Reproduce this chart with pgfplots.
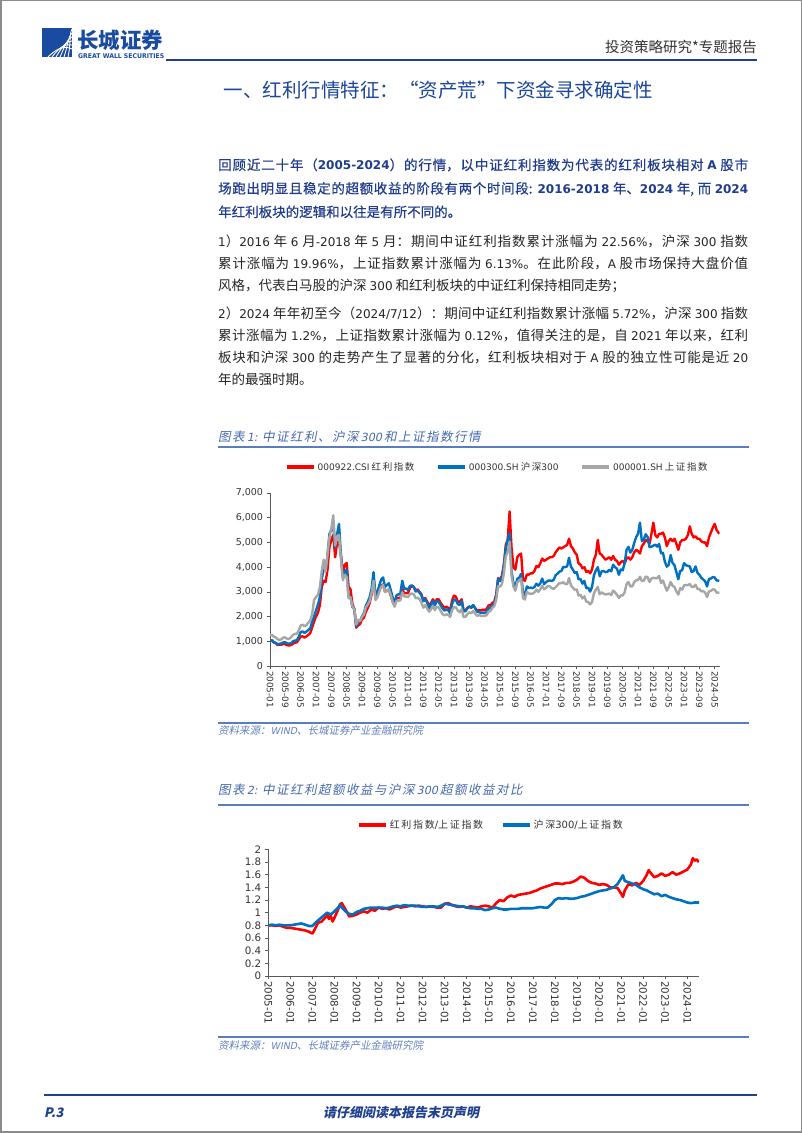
\documentclass[border=0pt]{standalone}
\usepackage{fontspec}
\usepackage{graphicx}
\usepackage{pgfplots}
\usepackage{pgfplotstable}
\pgfplotsset{compat=1.18}
\setmainfont{Noto Sans CJK SC}
\newfontfamily\cjkmb[FakeBold=0.5]{Noto Sans CJK SC}
\newfontfamily\lat[Scale=0.89]{DejaVu Sans}
\newfontfamily\tickfont{DejaVu Sans}
\newfontfamily\slant[FakeSlant=0.2]{Noto Sans CJK SC}
\newfontfamily\slantsp[FakeSlant=0.2,LetterSpace=12]{Noto Sans CJK SC}
\newfontfamily\slantlat[FakeSlant=0.2,Scale=0.9]{DejaVu Sans}
\XeTeXlinebreaklocale "zh"
\XeTeXlinebreakskip=0pt plus 2pt minus 0.3pt
\setlength{\parindent}{0pt}
\definecolor{cRed}{RGB}{255,0,0}
\definecolor{cBlue}{RGB}{0,112,192}
\definecolor{cGray}{RGB}{166,166,166}
\definecolor{hdrBlue}{RGB}{31,63,143}
\definecolor{txtBlue}{RGB}{32,60,140}
\definecolor{ttlBlue}{RGB}{28,70,155}
\definecolor{capBlue}{RGB}{70,105,175}
\definecolor{lineBlue}{RGB}{90,125,190}
\definecolor{srcBlue}{RGB}{100,130,190}
\definecolor{logoBlue}{RGB}{25,75,160}
\definecolor{bodyTxt}{RGB}{38,38,38}

\pgfplotstableread{
m red blue gray
0 1000 990 1260
1 1040 1050 1250
2 950 960 1190
3 920 940 1160
4 850 870 1080
5 860 900 1060
6 860 910 1080
7 900 960 1160
8 880 960 1150
9 840 910 1100
10 830 910 1100
11 850 920 1160
12 900 1000 1260
13 940 1030 1300
14 960 1040 1300
15 1070 1180 1440
16 1190 1370 1640
17 1200 1400 1670
18 1150 1340 1610
19 1200 1390 1660
20 1260 1460 1750
21 1330 1520 1840
22 1560 1800 2100
23 1800 2000 2680
24 2000 2250 2790
25 2150 2480 2880
26 2450 2780 3180
27 3200 3530 3840
28 3450 3900 4300
29 3400 3900 3820
30 3900 4470 4470
31 4800 5340 5220
32 5100 5500 5550
33 5300 5690 6100
34 4400 4800 4870
35 5000 5340 5260
36 5000 5750 5300
37 4500 4480 4350
38 3700 3580 3470
39 4100 3800 3690
40 4170 3890 3600
41 3200 2800 2740
42 3100 2800 2780
43 2500 2380 2400
44 2300 2300 2290
45 1550 1600 1680
46 1650 1800 1870
47 1700 1820 1820
48 1900 2010 1990
49 1950 2130 2080
50 2200 2440 2370
51 2350 2590 2480
52 2550 2790 2630
53 2900 3130 2960
54 3550 3800 3450
55 2800 2880 2670
56 2850 2990 2780
57 3050 3250 3000
58 3250 3500 3200
59 3300 3580 3280
60 3000 3200 2990
61 3050 3280 3050
62 3100 3350 3110
63 2850 3070 2870
64 2600 2760 2590
65 2450 2560 2400
66 2750 2860 2640
67 2750 2900 2640
68 2750 2930 2660
69 3100 3450 2980
70 2950 3130 2820
71 2950 3130 2810
72 2950 3080 2790
73 3150 3240 2910
74 3250 3260 2930
75 3200 3200 2910
76 3050 3010 2740
77 3100 3050 2760
78 3000 2970 2700
79 2900 2860 2570
80 2650 2620 2360
81 2750 2700 2470
82 2600 2560 2330
83 2450 2350 2200
84 2550 2460 2290
85 2700 2630 2430
86 2550 2450 2260
87 2700 2630 2400
88 2700 2600 2370
89 2550 2460 2230
90 2450 2330 2100
91 2350 2240 2050
92 2400 2290 2090
93 2350 2250 2070
94 2250 2140 1980
95 2650 2520 2270
96 2850 2690 2390
97 2800 2670 2370
98 2600 2500 2240
99 2600 2470 2180
100 2700 2630 2300
101 2250 2210 1980
102 2250 2220 1990
103 2350 2340 2100
104 2400 2410 2170
105 2350 2370 2140
106 2450 2470 2220
107 2350 2330 2120
108 2250 2200 2030
109 2250 2180 2060
110 2250 2150 2030
111 2280 2160 2030
112 2270 2160 2040
113 2300 2170 2050
114 2450 2350 2200
115 2450 2330 2220
116 2550 2450 2360
117 2600 2510 2420
118 2900 2810 2680
119 3550 3530 3230
120 3500 3430 3210
121 3650 3570 3310
122 4100 4050 3750
123 4900 4750 4440
124 5100 5120 4610
125 6250 5380 5030
126 4800 3820 3660
127 4000 3370 3210
128 3900 3200 3050
129 4400 3530 3380
130 4500 3570 3450
131 4550 3730 3540
132 3500 2950 2740
133 3450 2880 2690
134 3700 3220 3000
135 3700 3160 2940
136 3750 3170 2920
137 3750 3150 2930
138 3850 3200 2980
139 4050 3330 3090
140 4000 3250 3000
141 4150 3340 3100
142 4350 3540 3250
143 4250 3310 3100
144 4300 3390 3160
145 4350 3450 3240
146 4400 3460 3220
147 4400 3440 3150
148 4450 3490 3120
149 4600 3670 3190
150 4700 3740 3270
151 4800 3820 3360
152 4750 3840 3350
153 4800 4010 3390
154 4850 4000 3320
155 4900 4030 3310
156 5150 4380 3560
157 4850 4020 3260
158 4750 3900 3170
159 4600 3760 3080
160 4500 3800 3100
161 4150 3510 2850
162 4100 3520 2880
163 3950 3330 2730
164 4000 3440 2820
165 3800 3150 2600
166 3850 3170 2590
167 3750 3010 2490
168 3900 3200 2590
169 4300 3670 2940
170 4500 3870 3090
171 5100 4000 3200
172 4550 3630 2900
173 4500 3830 2980
174 4400 3840 2930
175 4300 3800 2890
176 4350 3810 2910
177 4400 3890 2930
178 4300 3830 2870
179 4450 4100 3050
180 4300 4000 2980
181 4250 3940 2880
182 4100 3690 2750
183 4200 3910 2860
184 4250 3870 2850
185 4150 4160 2980
186 4350 4700 3310
187 4400 4820 3400
188 4300 4590 3220
189 4400 4700 3220
190 4600 4980 3390
191 4700 5210 3470
192 4650 5350 3480
193 4550 5800 3610
194 4850 5050 3440
195 4950 5120 3450
196 5100 5330 3620
197 5050 5220 3590
198 4950 4810 3400
199 5350 4830 3540
200 5800 4870 3570
201 5300 4910 3550
202 5200 4830 3560
203 5350 4940 3640
204 5350 4560 3360
205 5400 4580 3460
206 5200 4220 3250
207 4850 4020 3050
208 5050 4090 3190
209 5150 4490 3400
210 5050 4170 3250
211 5150 4080 3200
212 4950 3800 3020
213 4700 3510 2890
214 5000 3850 3150
215 5100 3870 3090
216 5100 4160 3260
217 5150 4080 3280
218 5300 4050 3270
219 5650 4030 3320
220 5350 3800 3200
221 5200 3840 3200
222 5250 4030 3290
223 5150 3770 3120
224 5150 3690 3110
225 5050 3570 3020
226 5000 3500 3030
227 5000 3430 2970
228 4850 3220 2790
229 5200 3520 3020
230 5400 3540 3040
231 5600 3600 3100
232 5750 3580 3090
233 5500 3460 2970
234.4 5350 3450 2970
}\dataA

\pgfplotstableread{
m v
0 0.80
2 0.80
4 0.79
6 0.80
8 0.78
10 0.76
12 0.76
14 0.75
16 0.74
18 0.73
20 0.72
22 0.70
24 0.67
25 0.72
27 0.84
29 0.86
31 0.92
32 0.97
33 0.90
34 0.95
35 0.86
36 0.92
38 1.05
39 1.13
40 1.15
41 1.10
43 1.00
44 0.94
46 0.95
48 0.97
50 1.00
52 1.02
54 1.00
56 1.05
58 1.03
60 1.08
62 1.06
64 1.07
66 1.05
68 1.08
70 1.10
72 1.08
74 1.09
76 1.10
78 1.11
80 1.10
82 1.11
84 1.10
86 1.09
88 1.10
90 1.09
92 1.08
94 1.08
96 1.14
98 1.15
100 1.12
102 1.10
104 1.09
106 1.10
108 1.08
110 1.10
112 1.09
114 1.08
116 1.10
118 1.11
120 1.10
122 1.08
124 1.15
126 1.20
128 1.18
130 1.24
132 1.27
134 1.25
136 1.28
138 1.29
140 1.30
142 1.31
144 1.33
146 1.35
148 1.38
150 1.40
152 1.42
154 1.44
156 1.46
158 1.46
160 1.45
162 1.47
164 1.47
166 1.49
168 1.52
170 1.57
172 1.55
174 1.50
176 1.47
178 1.46
180 1.44
182 1.45
184 1.44
186 1.40
188 1.40
190 1.39
192 1.30
193 1.25
194 1.35
196 1.45
198 1.43
200 1.47
202 1.44
204 1.50
206 1.60
207 1.67
208 1.63
210 1.56
212 1.58
214 1.62
216 1.58
218 1.60
220 1.64
222 1.60
224 1.62
226 1.65
228 1.68
230 1.76
231 1.86
232 1.82
233 1.84
234.4 1.80
}\dataR

\pgfplotstableread{
m v
0 0.80
2 0.81
4 0.80
6 0.81
8 0.80
10 0.80
12 0.80
14 0.81
16 0.82
18 0.83
20 0.81
22 0.79
24 0.79
26 0.85
28 0.90
30 0.95
32 1.00
34 0.97
36 1.02
38 1.08
39 1.12
40 1.08
42 1.02
44 0.98
46 0.97
48 1.01
50 1.03
52 1.06
54 1.07
56 1.08
58 1.08
60 1.08
62 1.08
64 1.07
66 1.08
68 1.10
70 1.11
72 1.10
74 1.12
76 1.11
78 1.11
80 1.11
82 1.10
84 1.09
86 1.09
88 1.10
90 1.10
92 1.09
94 1.11
96 1.14
98 1.13
100 1.12
102 1.11
104 1.10
106 1.10
108 1.08
110 1.07
112 1.07
114 1.06
116 1.06
118 1.04
120 1.05
122 1.07
124 1.08
126 1.06
128 1.05
130 1.05
132 1.06
134 1.06
136 1.06
138 1.07
140 1.07
142 1.07
144 1.07
146 1.08
148 1.09
150 1.08
152 1.08
154 1.13
156 1.20
158 1.23
160 1.22
162 1.23
164 1.22
166 1.22
168 1.23
170 1.25
172 1.26
174 1.28
176 1.30
178 1.32
180 1.34
182 1.35
184 1.36
186 1.38
188 1.40
190 1.45
192 1.54
193 1.59
194 1.50
196 1.48
198 1.46
200 1.44
202 1.40
204 1.37
206 1.35
208 1.32
210 1.29
212 1.30
214 1.26
216 1.28
218 1.25
220 1.23
222 1.21
224 1.20
226 1.18
228 1.16
230 1.15
232 1.16
234.4 1.16
}\dataB

\begin{document}
\begin{tikzpicture}
\begin{scope}[x=1pt,y=1pt]
% page
\fill[white] (0,0) rectangle (802,1133);
\draw[black!45, line width=1.5pt] (0.75,0.75) rectangle (801.25,1132.25);

% logo
\fill[logoBlue] (42,1076) rectangle (72,1105);
\foreach \i in {0,...,5}{
  \draw[white, line width=0.9pt] ({48+4*\i},1076) .. controls ({56+3*\i},{1084+1*\i}) and ({64+1*\i},{1088+2*\i}) .. (72,{1084+4*\i});
}
\node[anchor=base west, inner sep=0, text=logoBlue, font=\fontsize{21.5}{24}\selectfont\bfseries] at (77,1084) {长城证券};
\node[anchor=west, inner sep=0, text=logoBlue] at (78,1077) {\resizebox{86pt}{4.8pt}{\tickfont\bfseries GREAT WALL SECURITIES}};
\node[anchor=base east, inner sep=0, text=black!80, font=\fontsize{14.5}{16}\selectfont] at (757,1080) {投资策略研究*专题报告};
\draw[hdrBlue, line width=2pt] (166,1073) -- (757,1073);

% title
\node[anchor=center, inner sep=0, text=ttlBlue, font=\fontsize{19.5}{22}\selectfont] at (438,1043) {一、红利行情特征：“资产荒”下资金寻求确定性};

% paragraph 1
\node[anchor=base west, inner sep=0, text width=530pt, align=justify, text=txtBlue, font=\fontsize{13.5}{23.5}\selectfont\cjkmb] at (218,963) {%
回顾近二十年（{\lat\bfseries 2005-2024}）的行情，以中证红利指数为代表的红利板块相对 {\lat\bfseries A} 股市\linebreak
场跑出明显且稳定的超额收益的阶段有两个时间段: {\lat\bfseries 2016-2018} 年、{\lat\bfseries 2024} 年, 而 {\lat\bfseries 2024}\linebreak
年红利板块的逻辑和以往是有所不同的。};

% paragraph 2
\node[anchor=base west, inner sep=0, text width=530pt, align=justify, text=bodyTxt, font=\fontsize{13.5}{22}\selectfont] at (218,886) {%
{\lat 1}）{\lat 2016} 年 {\lat 6} 月{\lat -2018} 年 {\lat 5} 月：期间中证红利指数累计涨幅为 {\lat 22.56\%}，沪深 {\lat 300} 指数\linebreak
累计涨幅为 {\lat 19.96\%}，上证指数累计涨幅为 {\lat 6.13\%}。在此阶段，{\lat A} 股市场保持大盘价值\linebreak
风格，代表白马股的沪深 {\lat 300} 和红利板块的中证红利保持相同走势；};

% paragraph 3
\node[anchor=base west, inner sep=0, text width=530pt, align=justify, text=bodyTxt, font=\fontsize{13.5}{22}\selectfont] at (218,814) {%
{\lat 2}）{\lat 2024} 年年初至今（{\lat 2024/7/12}）：期间中证红利指数累计涨幅 {\lat 5.72\%}，沪深 {\lat 300} 指数\linebreak
累计涨幅为 {\lat 1.2\%}，上证指数累计涨幅为 {\lat 0.12\%}，值得关注的是，自 {\lat 2021} 年以来，红利\linebreak
板块和沪深 {\lat 300} 的走势产生了显著的分化，红利板块相对于 {\lat A} 股的独立性可能是近 {\lat 20}\linebreak
年的最强时期。};

% caption 1
\node[anchor=base west, inner sep=0, text=capBlue, font=\fontsize{12.5}{14}\selectfont\slantsp] at (218,691) {图表\,{\slantlat 1:}\ 中证红利、沪深\,{\slantlat 300}\,和上证指数行情};
\draw[lineBlue, line width=1.5pt] (218,686) -- (749,686);

% source 1
\draw[lineBlue, line width=1.5pt] (218,410) -- (749,410);
\node[anchor=base west, inner sep=0, text=srcBlue, font=\fontsize{10.5}{12}\selectfont\slant] at (218,398) {资料来源：{\slantlat WIND}、长城证券产业金融研究院};

% caption 2
\node[anchor=base west, inner sep=0, text=capBlue, font=\fontsize{12.5}{14}\selectfont\slantsp] at (218,338) {图表\,{\slantlat 2:}\ 中证红利超额收益与沪深\,{\slantlat 300}\,超额收益对比};
\draw[lineBlue, line width=1.5pt] (218,328) -- (749,328);

% source 2
\draw[lineBlue, line width=1.5pt] (218,96) -- (749,96);
\node[anchor=base west, inner sep=0, text=srcBlue, font=\fontsize{10.5}{12}\selectfont\slant] at (218,83) {资料来源：{\slantlat WIND}、长城证券产业金融研究院};

% footer
\draw[hdrBlue, line width=2.5pt] (44,38) -- (757,38);
\node[anchor=base west, inner sep=0, text=hdrBlue, font=\fontsize{13}{15}\selectfont\slant\bfseries] at (44,15) {P.3};
\node[anchor=base, inner sep=0, text=hdrBlue, font=\fontsize{13}{15}\selectfont\slant\bfseries] at (401,15) {请仔细阅读本报告末页声明};
\end{scope}

% chart 1
\begin{axis}[
  at={(270pt,467pt)}, anchor=south west,
  scale only axis, width=449.5pt, height=173pt,
  xmin=0, xmax=234.5, ymin=0, ymax=7000,
  axis lines=left, axis line style={-, black!65, line width=0.7pt},
  tick align=outside, major tick length=3.5pt,
  tick style={black!65, line width=0.6pt},
  xtick={0,8,...,232},
  xticklabels={2005-01,2005-09,2006-05,2007-01,2007-09,2008-05,2009-01,2009-09,2010-05,2011-01,2011-09,2012-05,2013-01,2013-09,2014-05,2015-01,2015-09,2016-05,2017-01,2017-09,2018-05,2019-01,2019-09,2020-05,2021-01,2021-09,2022-05,2023-01,2023-09,2024-05},
  xticklabel style={rotate=-90, anchor=west, font=\tickfont\fontsize{8.8}{9}\selectfont, text=black!80, inner sep=1.5pt},
  ytick={0,1000,...,7000},
  yticklabels={0,{1,000},{2,000},{3,000},{4,000},{5,000},{6,000},{7,000}},
  yticklabel style={font=\tickfont\fontsize{9.5}{10}\selectfont, text=black!80},
  legend columns=3,
  legend style={at={(0.506,1.15)}, anchor=center, draw=none, fill=none,
    font=\fontsize{9.5}{11}\selectfont, text=black!80,
    /tikz/every even column/.append style={column sep=20pt}},
  legend image code/.code={\draw[#1, line width=3.5pt] (0pt,0pt) -- (27pt,0pt);},
  every axis plot/.append style={line join=round},
]
\addplot[cRed, line width=2.4pt] table[x=m, y=red] {\dataA};
\addlegendentry{{\tickfont\fontsize{9}{10}\selectfont 000922.CSI} 红\,利\,指\,数}
\addplot[cBlue, line width=2.4pt] table[x=m, y=blue] {\dataA};
\addlegendentry{{\tickfont\fontsize{9}{10}\selectfont 000300.SH} 沪\,深{\tickfont\fontsize{9}{10}\selectfont 300}}
\addplot[cGray, line width=2.4pt] table[x=m, y=gray] {\dataA};
\addlegendentry{{\tickfont\fontsize{9}{10}\selectfont 000001.SH} 上\,证\,指\,数}
\end{axis}

% chart 2
\begin{axis}[
  at={(268.3pt,157pt)}, anchor=south west,
  scale only axis, width=430.9pt, height=126.7pt,
  xmin=0, xmax=234.5, ymin=0, ymax=2,
  axis lines=left, axis line style={-, black!65, line width=0.7pt},
  tick align=outside, major tick length=3.5pt,
  tick style={black!65, line width=0.6pt},
  xtick={0,12,...,228},
  xticklabels={2005-01,2006-01,2007-01,2008-01,2009-01,2010-01,2011-01,2012-01,2013-01,2014-01,2015-01,2016-01,2017-01,2018-01,2019-01,2020-01,2021-01,2022-01,2023-01,2024-01},
  xticklabel style={rotate=-90, anchor=west, font=\tickfont\fontsize{10.3}{11}\selectfont, text=black!80, inner sep=1.5pt},
  ytick={0,0.2,...,2.01},
  yticklabels={0,0.2,0.4,0.6,0.8,1,1.2,1.4,1.6,1.8,2},
  yticklabel style={font=\tickfont\fontsize{10.3}{11}\selectfont, text=black!80},
  legend columns=2,
  legend style={at={(0.517,1.192)}, anchor=center, draw=none, fill=none,
    font=\fontsize{10}{11}\selectfont, text=black!80,
    /tikz/every even column/.append style={column sep=16pt}},
  legend image code/.code={\draw[#1, line width=3.5pt] (0pt,0pt) -- (27pt,0pt);},
  every axis plot/.append style={line join=round},
]
\addplot[cRed, line width=2.6pt] table[x=m, y=v] {\dataR};
\addlegendentry{红\,利\,指\,数{\tickfont\fontsize{10}{11}\selectfont /}上\,证\,指\,数}
\addplot[cBlue, line width=2.6pt] table[x=m, y=v] {\dataB};
\addlegendentry{沪\,深{\tickfont\fontsize{10}{11}\selectfont 300/}上\,证\,指\,数}
\end{axis}
\end{tikzpicture}
\end{document}
